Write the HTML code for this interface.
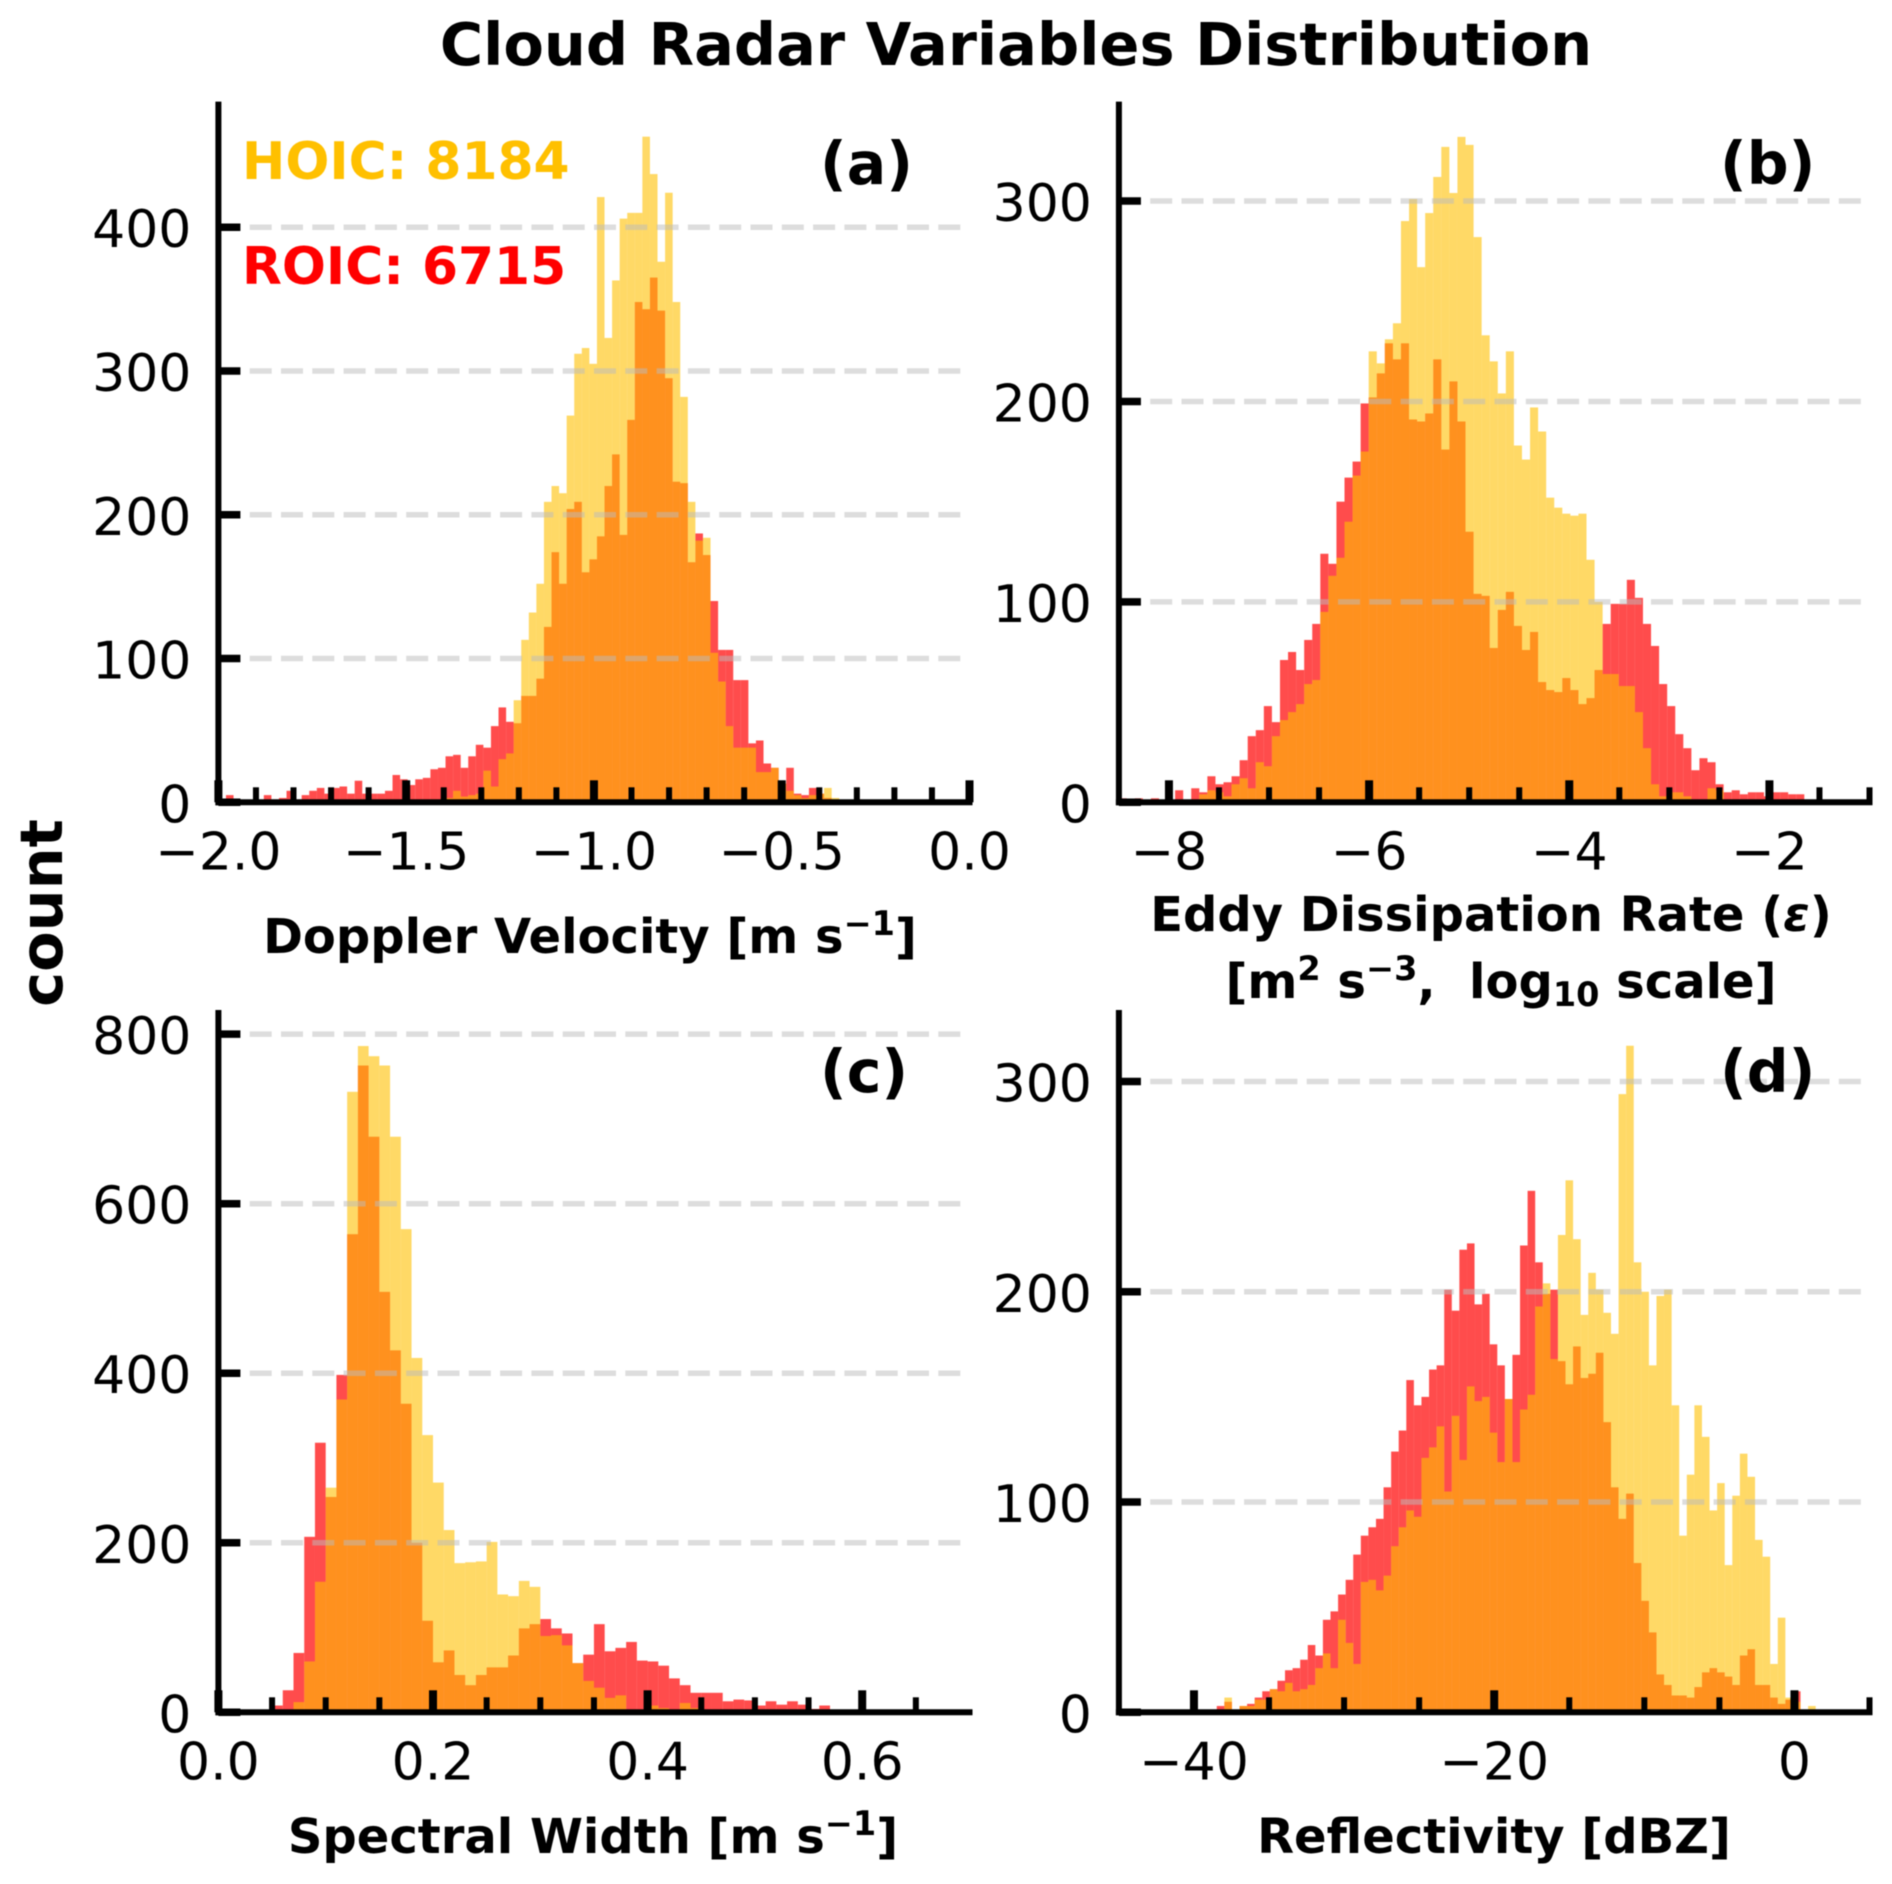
<!DOCTYPE html>
<html lang="en">
<head>
<meta charset="utf-8">
<title>Cloud Radar Variables Distribution</title>
<style>
html,body{margin:0;padding:0;background:#fff;}
svg{display:block;filter:blur(0.5px);}
text{font-family:"DejaVu Sans","Liberation Sans",sans-serif;fill:#000;}
.b{font-weight:bold;}
</style>
</head>
<body>
<svg id="chart" width="1892" height="1884" viewBox="0 0 1892 1884" xmlns="http://www.w3.org/2000/svg">
<rect x="0" y="0" width="1892" height="1884" fill="#fff"/>
<g id="panels"></g>
<text class="b" x="1016" y="65" font-size="59" text-anchor="middle">Cloud Radar Variables Distribution</text>
<text class="b" font-size="59" text-anchor="middle" transform="translate(62,913) rotate(-90)">count</text>
<text class="b" x="242" y="179" font-size="51.8" style="fill:#ffc000">HOIC: 8184</text>
<text class="b" x="242" y="284" font-size="51.8" style="fill:#ff0000">ROIC: 6715</text>
<text class="b" x="820" y="184" font-size="58.5">(a)</text>
<text class="b" x="1720" y="184" font-size="58.5">(b)</text>
<text class="b" x="820" y="1092" font-size="58.5">(c)</text>
<text class="b" x="1720" y="1092" font-size="58.5">(d)</text>
<text class="b" x="590" y="953" font-size="48" text-anchor="middle">Doppler Velocity [m s<tspan dy="-18" font-size="33.5">−1</tspan><tspan dy="18">]</tspan></text>
<text class="b" x="1491" y="931" font-size="48" text-anchor="middle">Eddy Dissipation Rate (<tspan font-style="italic">ε</tspan>)</text>
<text class="b" x="1501" y="998" font-size="48" text-anchor="middle">[m<tspan dy="-18" font-size="33.5">2</tspan><tspan dy="18"> s</tspan><tspan dy="-18" font-size="33.5">−3</tspan><tspan dy="18">,&#160; log</tspan><tspan dy="8" font-size="33.5">10</tspan><tspan dy="-8"> scale]</tspan></text>
<text class="b" x="593" y="1853" font-size="48" text-anchor="middle">Spectral Width [m s<tspan dy="-18" font-size="33.5">−1</tspan><tspan dy="18">]</tspan></text>
<text class="b" x="1494" y="1853" font-size="48" text-anchor="middle">Reflectivity [dBZ]</text>
</svg>
<script>
// Panel (a) Doppler velocity
const roicA = [1,5,2,1,1,1,5,2,3,8,2,5,8,10,6,10,11,6,15,6,6,6,8,19,16,12,16,17,23,24,32,33,24,32,40,38,53,66,56,55,74,74,86,122,174,152,204,209,160,169,185,220,242,186,266,348,343,365,342,295,223,222,167,187,172,140,106,106,85,85,41,43,27,24,13,24,6,5,10,6,3,1,1,1,2];
const hoicA = [0,0,0,0,0,0,0,0,0,0,0,0,0,0,0,0,0,0,0,0,0,0,0,0,0,0,0,0,2,1,3,8,4,5,6,22,11,30,34,71,113,132,152,209,220,215,269,312,316,305,421,323,363,406,410,410,463,437,376,424,348,282,209,182,184,104,84,53,38,38,38,21,21,24,13,8,5,3,5,6,10,3,1,1,0,0,0,1];
// Panel (b) Eddy dissipation rate
const roicB = [2,1,2,1,2,1,0,6,1,7,5,13,9,10,13,21,33,36,48,40,71,75,66,81,89,124,119,150,162,170,199,202,214,229,221,229,191,190,194,221,176,210,190,135,104,103,77,96,105,88,76,85,60,56,55,62,56,49,52,66,89,99,99,111,102,89,78,59,48,34,27,16,22,20,9,5,6,4,5,5,3,5,5,4,4];
const hoicB = [0,0,0,0,1,1,0,0,1,1,4,6,5,3,9,12,7,20,18,33,41,45,49,59,61,95,113,122,140,163,175,225,219,231,239,290,301,267,294,312,327,304,332,328,282,233,220,204,225,178,171,197,185,152,147,144,143,144,121,100,64,64,58,58,45,27,9,3,5,5,3,1,1,7,6,1,0,0,1];
// Panel (c) Spectral width
const roicC = [0,0,0,0,0,8,26,70,207,318,254,398,564,763,679,496,427,364,200,108,59,73,44,32,44,53,53,67,99,104,110,99,93,58,68,104,72,76,83,61,60,55,40,32,23,23,23,13,15,14,8,13,9,13,9,4,8,3];
const hoicC = [0,0,0,0,0,0,0,12,60,154,265,369,732,786,774,763,679,570,418,327,271,215,176,177,178,201,139,137,155,148,90,91,79,58,37,29,17,20,1,0,8,5,3,11,5];
// Panel (d) Reflectivity
const roicD = [3,5,0,3,4,7,10,11,15,20,21,25,32,27,44,48,56,63,75,84,88,92,107,124,134,158,146,150,163,165,201,191,220,223,194,199,175,165,149,170,222,248,214,199,201,167,156,174,159,161,171,138,107,92,104,71,53,38,18,13,8,8,7,12,19,21,19,17,13,27,30,13,13,7,4,6,10];
const hoicD = [1,7,0,3,3,6,6,11,10,14,10,11,13,21,28,21,44,33,23,62,63,58,65,79,88,96,93,121,126,136,105,141,120,155,148,150,133,119,149,119,144,151,193,204,168,227,253,225,189,209,201,190,180,294,317,214,200,165,198,201,146,84,113,146,131,96,109,70,103,123,112,82,74,23,45,7,5,0,3];
// Tick labels and tick values
const xMajorA = [-2,-1.5,-1,-0.5,0];
const xLabelsA = ['−2.0','−1.5','−1.0','−0.5','0.0'];
const xMinorA = [-1.9,-1.8,-1.7,-1.6,-1.4,-1.3,-1.2,-1.1,-0.9,-0.8,-0.7,-0.6,-0.4,-0.3,-0.2,-0.1];
const yTicksA = [0,100,200,300,400];
const xMajorB = [-8,-6,-4,-2];
const xLabelsB = ['−8','−6','−4','−2'];
const xMinorB = [-7.5,-7,-6.5,-5.5,-5,-4.5,-3.5,-3,-2.5,-1.5,-1];
const yTicksB = [0,100,200,300];
const xMajorC = [0,0.2,0.4,0.6];
const xLabelsC = ['0.0','0.2','0.4','0.6'];
const xMinorC = [0.05,0.1,0.15,0.25,0.3,0.35,0.45,0.5,0.55,0.65];
const yTicksC = [0,200,400,600,800];
const xMajorD = [-40,-20,0];
const xLabelsD = ['−40','−20','0'];
const xMinorD = [-35,-30,-25,-15,-10,-5,5];
const yTicksD = [0,100,200,300];

const NS = 'http://www.w3.org/2000/svg';
function make(tag, parent, attrs) {
  const el = document.createElementNS(NS, tag);
  for (const k in attrs) el.setAttribute(k, attrs[k]);
  parent.appendChild(el);
  return el;
}
function drawPanel(p) {
  const root = document.getElementById('panels');
  const g = make('g', root, {});
  
  
  const xScale = v => p.left + (v - p.xMin) / (p.xMax - p.xMin) * (p.right - p.left);
  const yScale = v => p.base - v / p.yMax * (p.base - p.top);

  function bars(values, color, alpha, label) {
    const s = make('g', g, {fill: color, 'fill-opacity': alpha});
    
    
    values.forEach((v, i) => {
      if (!v) return;
      const x0 = xScale(p.binStart + i * p.binWidth);
      const x1 = xScale(p.binStart + (i + 1) * p.binWidth);
      const clipX1 = Math.min(x1, p.right);
      const y = yScale(v);
      const r = make('rect', s, {x: x0, y: y, width: clipX1 - x0, height: p.base - y});
      
      
    });
  }
  bars(p.roic, '#ff0000', 0.7, 'roic');
  bars(p.hoic, '#ffc000', 0.6, 'hoic');

  p.yTicks.forEach(t => {
    if (t !== 0) {
      const gl = make('line', g, {x1: p.left, x2: p.right, y1: yScale(t), y2: yScale(t), stroke: '#bbbbbb', 'stroke-opacity': 0.5, 'stroke-width': 5.5, 'stroke-dasharray': '22 9.3'});
      
      
    }
    const tk = make('line', g, {x1: p.left, x2: p.left + 22, y1: yScale(t), y2: yScale(t), stroke: '#000', 'stroke-width': 7.5});
    
    
    const lb = make('text', g, {x: p.left - 27, y: yScale(t) + 20, 'font-size': 52, 'text-anchor': 'end'});
    
    
    lb.textContent = String(t);
  });
  p.xMajor.forEach((t, i) => {
    const tk = make('line', g, {x1: xScale(t), x2: xScale(t), y1: p.base, y2: p.base - 22, stroke: '#000', 'stroke-width': 8});
    
    
    const lb = make('text', g, {x: xScale(t), y: p.base + 67, 'font-size': 52, 'text-anchor': 'middle'});
    
    
    lb.textContent = p.xLabels[i];
  });
  p.xMinor.forEach(t => {
    const tk = make('line', g, {x1: xScale(t), x2: xScale(t), y1: p.base, y2: p.base - 15, stroke: '#000', 'stroke-width': 6});
    
    
  });
  const ls = make('line', g, {x1: p.left, x2: p.left, y1: p.top, y2: p.base + 3, stroke: '#000', 'stroke-width': 6});
  
  
  const bs = make('line', g, {x1: p.left - 3, x2: p.right + 3, y1: p.base, y2: p.base, stroke: '#000', 'stroke-width': 6});
  
  
}
drawPanel({id: 'a', left: 218.4, right: 969.5, top: 101.6, base: 802.3, xMin: -2, xMax: 0, yMax: 487.4, binStart: -2, binWidth: 0.02016, roic: roicA, hoic: hoicA, yTicks: yTicksA, xMajor: xMajorA, xLabels: xLabelsA, xMinor: xMinorA});
drawPanel({id: 'b', left: 1118.9, right: 1869.5, top: 101.6, base: 802.3, xMin: -8.5, xMax: -1, yMax: 349.6, binStart: -8.5025, binWidth: 0.0806, roic: roicB, hoic: hoicB, yTicks: yTicksB, xMajor: xMajorB, xLabels: xLabelsB, xMinor: xMinorB});
drawPanel({id: 'c', left: 218.4, right: 969.5, top: 1010, base: 1712.3, xMin: 0, xMax: 0.7, yMax: 828.5, binStart: 0, binWidth: 0.01, roic: roicC, hoic: hoicC, yTicks: yTicksC, xMajor: xMajorC, xLabels: xLabelsC, xMinor: xMinorC});
drawPanel({id: 'd', left: 1118.9, right: 1869.5, top: 1010, base: 1712.3, xMin: -45, xMax: 5, yMax: 334, binStart: -38.48, binWidth: 0.505, roic: roicD, hoic: hoicD, yTicks: yTicksD, xMajor: xMajorD, xLabels: xLabelsD, xMinor: xMinorD});
</script>
</body>
</html>
